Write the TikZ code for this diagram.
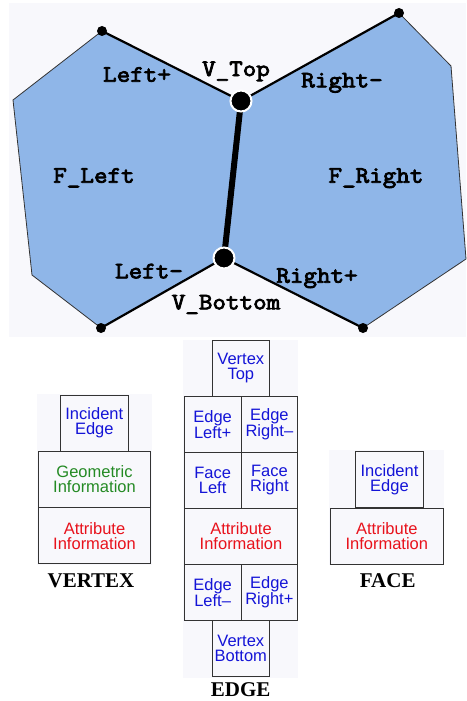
\documentclass[tikz,border=0pt]{standalone}
\usepackage{fontspec}
\setmainfont{Liberation Serif}
\setsansfont{Liberation Sans}
\newfontfamily\monob{Latin Modern Mono}[FakeBold=3.5,FakeStretch=1.12]
\definecolor{facefill}{RGB}{143,182,232}
\definecolor{bgoff}{RGB}{248,248,252}
\definecolor{txtblue}{RGB}{20,20,215}
\definecolor{txtgreen}{RGB}{36,138,36}
\definecolor{txtred}{RGB}{232,18,28}
\begin{document}
\begin{tikzpicture}[x=1pt,y=-1pt,
  lbl/.style={font=\monob\fontsize{23.5}{24}\selectfont, anchor=base, inner sep=0pt},
  cell/.style={draw=black!80, fill=bgoff, line width=0.9pt, minimum width=#1, minimum height=56, inner sep=0pt, align=center, font=\sffamily\fontsize{16.5}{15}\selectfont},
  title/.style={font=\rmfamily\bfseries\fontsize{21}{21}\selectfont, inner sep=0pt},
  outline/.style={draw=black!80, line width=0.8pt},
  shared/.style={draw=black, line width=2.2pt},
  smalldot/.style={fill=black},
  bigdot/.style={fill=black, draw=white, line width=2pt}]
\useasboundingbox (0,0) rectangle (466,701);
% top section background
\fill[bgoff] (9,3) rectangle (466,337);
% polygon corners
\coordinate (vt) at (241,101);
\coordinate (vb) at (224,258);
\coordinate (l1) at (102,31);
\coordinate (l2) at (13,100);
\coordinate (l3) at (32,275);
\coordinate (l4) at (101,328);
\coordinate (r1) at (399,13);
\coordinate (r2) at (451,66);
\coordinate (r3) at (466,259);
\coordinate (r4) at (363,328);
\fill[facefill] (vt)--(l1)--(l2)--(l3)--(l4)--(vb)--cycle;
\fill[facefill] (vt)--(r1)--(r2)--(r3)--(r4)--(vb)--cycle;
\draw[outline] (l1)--(l2)--(l3)--(l4);
\draw[outline] (r1)--(r2)--(r3)--(r4);
\draw[shared] (l1)--(vt)--(r1);
\draw[shared] (l4)--(vb)--(r4);
\draw[line width=6pt] (vt)--(vb);
\foreach \p in {l1,l4,r1,r4} \fill[smalldot] (\p) circle (5);
\filldraw[bigdot] (vt) circle (10.5);
\filldraw[bigdot] (vb) circle (10.5);
% labels
\node[lbl] (tleftp) at (137,81.7) {Left+};
\node[lbl] (tvtop) at (236,76) {V\_Top};
\node[lbl] (trightm) at (342,87.3) {Right-};
\node[lbl] (tfleft) at (94,182.7) {F\_Left};
\node[lbl] (tfright) at (376,182.7) {F\_Right};
\node[lbl] (tleftm) at (149,278.3) {Left-};
\node[lbl] (trightp) at (317,282.7) {Right+};
\node[lbl] (tvbot) at (226,309.3) {V\_Bottom};
% group backgrounds
\fill[bgoff] (36.7,394) rectangle (151.7,565);
\fill[bgoff] (183,340) rectangle (298,678);
\fill[bgoff] (329,450) rectangle (444,565);
% VERTEX
\node[cell=68, text=txtblue] (vie) at (94.3,423) {Incident\\Edge};
\node[cell=112.4, text=txtgreen] (vgeo) at (94.5,479.3) {Geometric\\Information};
\node[cell=112.4, text=txtred] (vattr) at (94.5,535.7) {Attribute\\Information};
\node[title] (vtitle) at (91,580.7) {VERTEX};
% EDGE
\node[cell=57, text=txtblue] (evt) at (240.8,368.5) {Vertex\\Top};
\node[cell=56.7, text=txtblue] (elp) at (212.65,424.3) {Edge\\Left+};
\node[cell=56.7, text=txtblue] (erm) at (269.35,424.3) {Edge\\Right–};
\node[cell=56.7, text=txtblue] (efl) at (212.65,480.3) {Face\\Left};
\node[cell=56.7, text=txtblue] (efr) at (269.35,480.3) {Face\\Right};
\node[cell=113.4, text=txtred] (eattr) at (241,536.3) {Attribute\\Information};
\node[cell=56.7, text=txtblue] (elm) at (212.65,592.3) {Edge\\Left–};
\node[cell=56.7, text=txtblue] (erp) at (269.35,592.3) {Edge\\Right+};
\node[cell=57, text=txtblue] (evb) at (240.8,648.3) {Vertex\\Bottom};
\node[title] (etitle) at (240.7,690) {EDGE};
% FACE
\node[cell=68.4, text=txtblue] (fie) at (389.5,479.3) {Incident\\Edge};
\node[cell=113.7, text=txtred] (fattr) at (386.8,536) {Attribute\\Information};
\node[title] (ftitle) at (387.7,580.7) {FACE};
\end{tikzpicture}
\end{document}
